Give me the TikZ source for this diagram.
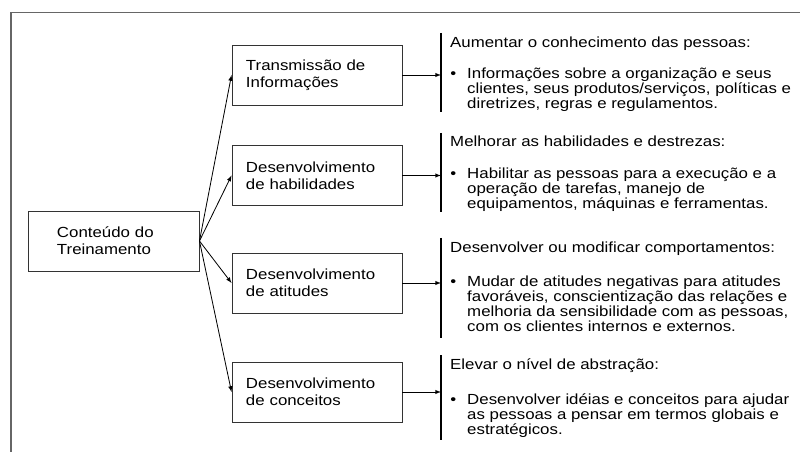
\documentclass[tikz,border=0pt]{standalone}
\usepackage{fontspec}
\setmainfont{Liberation Sans}[FakeStretch=1.15]
\usetikzlibrary{arrows}

\tikzset{
  caixa/.style={draw=black!80, line width=0.8pt, rectangle, minimum width=5.1cm,
    minimum height=1.8cm, inner xsep=0.42cm, text width=4.26cm, align=left,
    font=\fontsize{12.5}{14.5}\selectfont},
  seta/.style={-latex, line width=0.7pt},
  barra/.style={line width=0.9pt},
  titulo/.style={anchor=base west, inner sep=0pt, font=\fontsize{12.5}{12.8}\selectfont},
  corpo/.style={anchor=north west, inner sep=0pt, align=left, font=\fontsize{12.5}{12.8}\selectfont},
}
\newcommand{\marca}{\llap{\textbullet\hspace{0.33cm}}}

\begin{document}
\begin{tikzpicture}[x=0.03cm, y=-0.03cm]
    \useasboundingbox (0,0) rectangle (800,452);
    % moldura
    \draw[black!60, line width=1pt] (800,12.5) -- (11,12.5) -- (11,452);

    \node[caixa, minimum width=5.13cm, inner xsep=0.87cm, text width=3.39cm] (cont) at (113.5,241) {Conteúdo do\\Treinamento};
    \node[caixa] (trans) at (317,75) {Transmissão de\\Informações};
    \node[caixa] (hab) at (317,175.5) {Desenvolvimento\\de habilidades};
    \node[caixa] (ati) at (317,283) {Desenvolvimento\\de atitudes};
    \node[caixa] (conc) at (317,392) {Desenvolvimento\\de conceitos};

    \foreach \to in {trans, hab, ati, conc}
      \draw[seta] (cont.east) -- (\to.west);

    % barras e setas horizontais
    \foreach \bx/\ini/\fim in {trans/33/112, hab/133/212, ati/238/338, conc/355/440} {
      \coordinate (\bx-topo) at (441,\ini);
      \coordinate (\bx-pe) at (441,\fim);
      \draw[barra] (\bx-topo) -- (\bx-pe);
      \draw[seta] (\bx.east) -- (\bx.east -| \bx-topo);
    }

    % textos
    \node[titulo] (t1) at (450,48) {Aumentar o conhecimento das pessoas:};
    \node[corpo] (c1) at (467,68) {\marca Informações sobre a organização e seus\\clientes, seus produtos/serviços, políticas e\\diretrizes, regras e regulamentos.};

    \node[titulo] (t2) at (450,147) {Melhorar as habilidades e destrezas:};
    \node[corpo] (c2) at (467,168) {\marca Habilitar as pessoas para a execução e a\\operação de tarefas, manejo de\\equipamentos, máquinas e ferramentas.};

    \node[titulo] (t3) at (450,253) {Desenvolver ou modificar comportamentos:};
    \node[corpo] (c3) at (467,276) {\marca Mudar de atitudes negativas para atitudes\\favoráveis, conscientização das relações e\\melhoria da sensibilidade com as pessoas,\\com os clientes internos e externos.};

    \node[titulo] (t4) at (450,370) {Elevar o nível de abstração:};
    \node[corpo] (c4) at (467,393) {\marca Desenvolver idéias e conceitos para ajudar\\as pessoas a pensar em termos globais e\\estratégicos.};
\end{tikzpicture}
\end{document}
